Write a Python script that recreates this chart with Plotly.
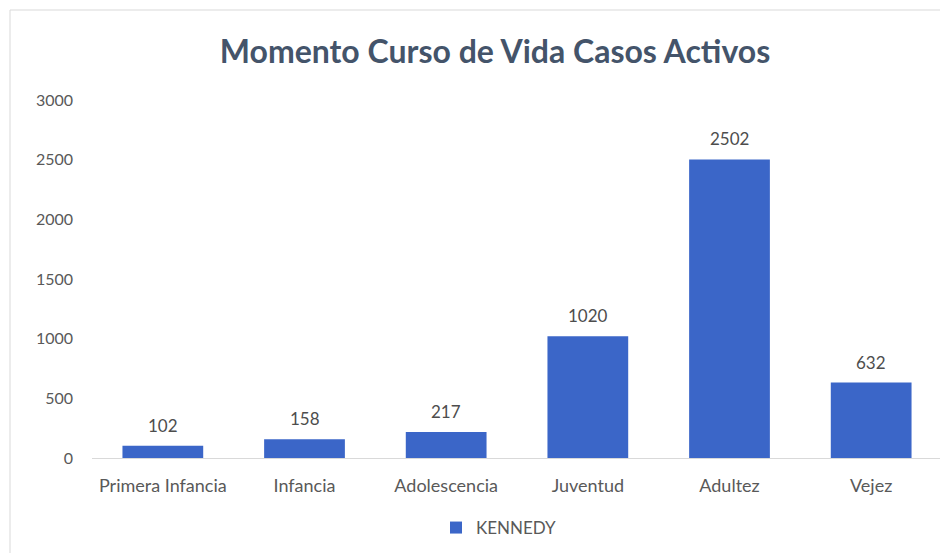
import plotly.graph_objects as go

categories = ["Primera Infancia", "Infancia", "Adolescencia", "Juventud", "Adultez", "Vejez"]
values = [102, 158, 217, 1020, 2502, 632]
series_name = "KENNEDY"
y_ticks = [0, 500, 1000, 1500, 2000, 2500, 3000]

# page is rendered with an 8px body offset, compensated in margins
W, H = 948, 553
L, R, T, B = 84, 14, 92, 103
PW, PH = W - L - R, H - T - B

fig = go.Figure()
fig.add_trace(go.Bar(
    x=categories, y=values, name=series_name,
    marker=dict(color="#3b66c8", line=dict(width=0)),
    cliponaxis=False,
))

annotations = [
    dict(x=c, y=v, xref="x", yref="y", text=str(v), showarrow=False,
         yanchor="bottom", yshift=8,
         font=dict(family="Lato, sans-serif", size=17, color="#4d4d4d"))
    for c, v in zip(categories, values)
]

fig.update_layout(
    width=W, height=H,
    margin=dict(l=L, r=R, t=T, b=B),
    paper_bgcolor="white", plot_bgcolor="white",
    bargap=0.43,
    showlegend=True,
    annotations=annotations,
    title=dict(text="<b>Momento Curso de Vida Casos Activos</b>",
               x=487 / W, xanchor="center", y=1 - 44 / H, yanchor="middle",
               font=dict(family="Lato, sans-serif", size=32, color="#44546a")),
    legend=dict(orientation="h", x=0.5 - 18 / PW, xanchor="center", y=-70 / PH, yanchor="middle",
                font=dict(family="Lato, sans-serif", size=17, color="#595959"),
                itemwidth=30),
    xaxis=dict(showgrid=False, showline=True, linecolor="#d9d9d9", linewidth=1,
               ticks="", ticklabelstandoff=11,
               tickfont=dict(family="Lato, sans-serif", size=18, color="#595959")),
    yaxis=dict(range=[0, 3000], tickvals=y_ticks, showgrid=False, zeroline=False,
               showline=False, ticks="", ticklabelstandoff=18,
               tickfont=dict(family="Lato, sans-serif", size=16, color="#595959")),
    shapes=[dict(type="rect", xref="paper", yref="paper",
                 x0=-(L - 2) / PW, x1=1 + (R + 4) / PW,
                 y0=-(B + 10) / PH, y1=1 + (T - 2) / PH,
                 line=dict(color="#d9d9d9", width=1), fillcolor="rgba(0,0,0,0)")],
)

fig.write_html("out.html")
